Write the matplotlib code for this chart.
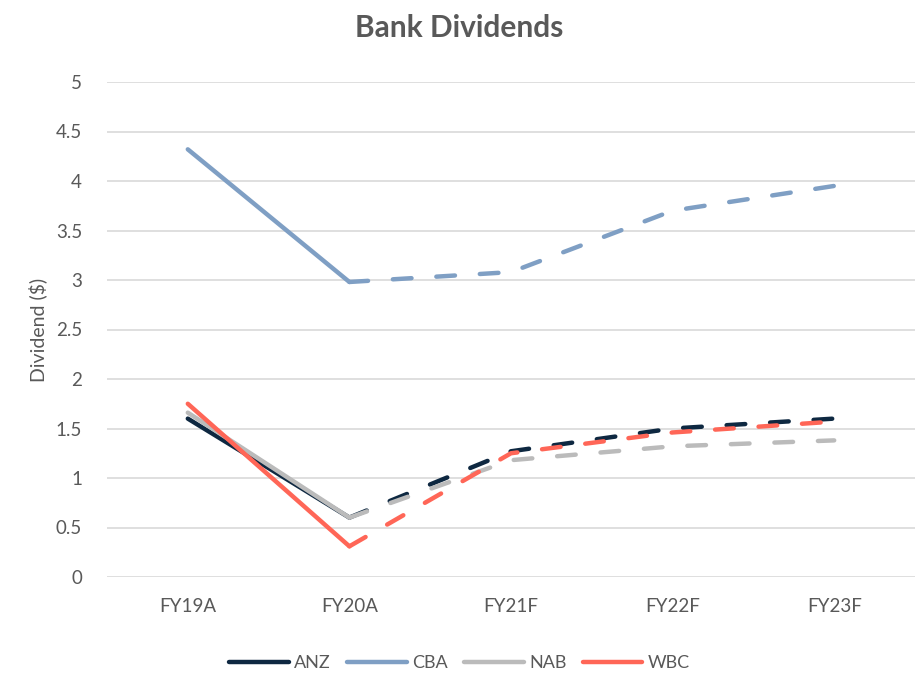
import matplotlib
matplotlib.use("Agg")
import matplotlib.pyplot as plt
from matplotlib.lines import Line2D

categories = ["FY19A", "FY20A", "FY21F", "FY22F", "FY23F"]
series_names = ["ANZ", "CBA", "NAB", "WBC"]
anz = [1.60, 0.60, 1.27, 1.50, 1.60]
cba = [4.32, 2.98, 3.08, 3.70, 3.95]
nab = [1.66, 0.60, 1.18, 1.32, 1.38]
wbc = [1.75, 0.31, 1.25, 1.46, 1.57]
colors = ["#0E2841", "#7F9FC4", "#BBBBBB", "#FF6657"]
yticks = [0, 0.5, 1, 1.5, 2, 2.5, 3, 3.5, 4, 4.5, 5]

plt.rcParams['font.family'] = ['Lato', 'DejaVu Sans']
fig = plt.figure(figsize=(9.19, 6.75), dpi=100)
ax = fig.add_axes([107/919, (675-577)/675, (915-107)/919, (577-82)/675])

x = list(range(len(categories)))
lw = 3.2
for name, vals, c in zip(series_names, [anz, cba, nab, wbc], colors):
    ax.plot(x[:2], vals[:2], color=c, lw=lw, solid_capstyle='round', solid_joinstyle='round', zorder=3)
    ax.plot(x[1:], vals[1:], color=c, lw=lw, dashes=(4.2, 5.6), dash_capstyle='round', zorder=3)

ax.set_xlim(-0.5, len(categories) - 0.5)
ax.set_ylim(0, 5)
ax.set_yticks(yticks)
ax.set_yticklabels([f"{v:g}" for v in yticks])
ax.set_xticks(x)
ax.set_xticklabels(categories)
ax.tick_params(axis='both', length=0, labelsize=13.5, colors="#595959")
ax.tick_params(axis='y', pad=18)
ax.tick_params(axis='x', pad=15)
ax.grid(axis='y', color="#D9D9D9", lw=1.2)
ax.set_axisbelow(True)
for s in ax.spines.values():
    s.set_visible(False)
ax.set_ylabel("Dividend ($)", fontsize=14, color="#595959", labelpad=6)

fig.text(0.5, 1 - 28/675, "Bank Dividends", ha='center', va='center', fontsize=21.5,
         fontweight='bold', color="#595959")

handles = [Line2D([0], [0], color=c, lw=lw, solid_capstyle='round') for c in colors]
fig.legend(handles, series_names, loc='center', bbox_to_anchor=(0.5, 1 - 663/675), ncol=4,
           frameon=False, fontsize=13, handlelength=3.3, handletextpad=0.3, columnspacing=0.9,
           labelcolor="#595959")

fig.savefig("out.png", dpi=100)
